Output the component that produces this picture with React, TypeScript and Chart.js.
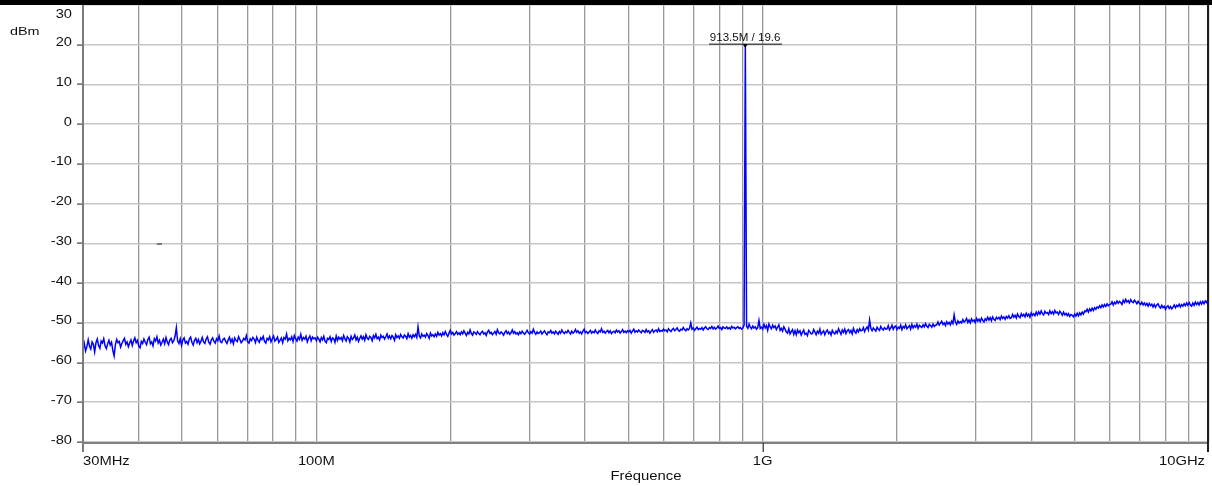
import React, { useEffect, useRef } from "react";
import { Chart, registerables } from "chart.js";

Chart.register(...registerables);

// ---- axes ----
const X_MIN = 30e6;
const X_MAX = 10e9;
const Y_MIN = -80;
const Y_MAX = 30;
const yTickValues = [30, 20, 10, 0, -10, -20, -30, -40, -50, -60, -70, -80];
const xGridFreqs = [
  30e6, 40e6, 50e6, 60e6, 70e6, 80e6, 90e6,
  100e6, 200e6, 300e6, 400e6, 500e6, 600e6, 700e6, 800e6, 900e6,
  1e9, 2e9, 3e9, 4e9, 5e9, 6e9, 7e9, 8e9, 9e9, 10e9,
];
const xLabelFreqs = [30e6, 100e6, 1e9, 10e9];
const xLabelTexts = ["30MHz", "100M", "1G", "10GHz"];
const xTickMarkFreqs = [1e9];
const yUnit = "dBm";
const xTitle = "Fréquence";

// ---- marker ----
const markerFreq = 913.5e6;
const markerLevel = 19.6;
const markerText = "913.5M / 19.6";

// small stray dash on the -30 line
const dashFreqs = [43.9e6, 45.1e6];
const dashLevel = -30;

// ---- trace (dBm), sweep 30 MHz -> 100 MHz ----
const segA = [
  -56.8, -55.2, -57.1, -56.0, -54.3, -55.9, -56.6, -54.8, -55.4, -57.3,
  -55.0, -54.1, -55.7, -56.4, -54.6, -55.1, -54.0, -55.8, -56.5, -55.3,
  -54.4, -55.6, -54.9, -56.9, -58.3, -55.5, -54.2, -55.0, -54.7, -56.1,
  -55.2, -54.5, -53.9, -55.4, -54.8, -56.0, -55.1, -54.3, -55.7, -54.6,
  -53.8, -55.0, -54.4, -55.9, -56.3, -54.7, -55.2, -54.1, -54.9, -55.5,
  -54.2, -53.6, -55.3, -54.8, -55.8, -54.0, -54.6, -53.5, -55.1, -54.4,
  -55.6, -54.9, -54.1, -55.3, -53.7, -54.8, -55.5, -54.3, -53.9, -55.0,
  -54.5, -53.4, -51.2, -54.6, -55.2, -54.0, -55.7, -54.3, -53.8, -55.1,
  -54.7, -55.4, -54.1, -53.6, -54.9, -55.6, -54.4, -53.9, -55.0, -54.2,
  -55.3, -54.6, -53.7, -54.8, -55.2, -54.1, -53.5, -54.9, -55.4, -54.3,
  -53.8, -54.7, -55.1, -54.0, -54.5, -53.3, -54.8, -55.0, -54.2, -53.9,
  -54.6, -55.2, -54.3, -53.6, -54.9, -54.1, -55.3, -53.8, -54.4, -54.7,
  -53.5, -54.2, -55.0, -54.6, -53.9, -54.3, -53.2, -54.8, -55.1, -54.0,
  -54.5, -53.7, -54.1, -55.0, -53.6, -54.4, -54.9, -53.8, -54.2, -53.4,
  -54.7, -55.1, -53.9, -54.3, -53.5, -54.8, -54.0, -53.3, -54.6, -54.2,
  -53.6, -54.9, -54.4, -53.8, -55.0, -53.7, -54.1, -52.8, -54.5, -53.9,
  -54.3, -53.5, -54.7, -53.2, -54.0, -54.6, -53.6, -54.2, -52.9, -54.4,
  -53.7, -54.1, -53.4, -54.8, -53.9, -53.3, -54.5, -53.6, -54.0, -53.8,
];
// sweep 100 MHz -> 1 GHz
const segB = [
  -54.5, -53.6, -54.1, -54.8, -53.7, -54.3, -53.4, -54.6, -55.0, -53.9,
  -54.2, -53.5, -54.7, -53.8, -54.0, -54.9, -53.3, -54.4, -53.6, -54.1,
  -53.7, -54.5, -53.2, -54.0, -54.6, -53.5, -53.9, -54.8, -53.4, -54.2,
  -53.8, -53.1, -54.3, -53.6, -54.7, -53.9, -53.3, -54.1, -53.5, -54.4,
  -53.0, -53.9, -54.2, -53.4, -53.7, -54.5, -53.2, -53.8, -52.9, -54.0,
  -53.6, -54.3, -53.1, -53.7, -53.4, -54.1, -53.5, -52.8, -53.9, -53.3,
  -54.0, -53.2, -53.6, -54.4, -53.0, -53.7, -53.3, -53.9, -52.9, -53.5,
  -53.8, -53.1, -53.4, -54.0, -52.7, -53.6, -53.2, -53.9, -53.0, -53.5,
  -52.9, -53.7, -51.0, -53.3, -53.8, -52.8, -53.4, -53.1, -53.6, -52.7,
  -53.2, -53.9, -52.6, -53.3, -53.0, -53.5, -52.8, -53.4, -52.4, -53.1,
  -52.7, -53.3, -52.5, -53.0, -52.2, -52.9, -53.4, -52.6, -51.9, -52.8,
  -52.4, -53.1, -52.7, -52.2, -52.9, -52.5, -53.0, -52.3, -52.8, -52.0,
  -52.6, -53.2, -52.4, -52.8, -51.8, -52.7, -53.1, -52.3, -52.5, -52.9,
  -52.2, -52.7, -53.0, -52.4, -52.1, -52.8, -52.5, -53.2, -52.3, -51.9,
  -52.7, -52.4, -53.0, -52.6, -52.2, -52.9, -51.7, -52.5, -52.8, -52.3,
  -52.6, -53.1, -52.4, -52.0, -52.7, -52.3, -52.9, -52.5, -51.8, -52.6,
  -52.2, -52.8, -52.5, -53.0, -52.3, -52.7, -52.1, -52.6, -52.9, -52.4,
  -51.9, -52.5, -52.8, -52.2, -52.6, -51.6, -52.4, -52.9, -52.3, -52.7,
  -52.5, -52.1, -52.8, -52.4, -52.0, -52.6, -53.0, -52.3, -52.5, -51.9,
  -52.6, -52.3, -52.8, -52.1, -52.5, -52.9, -52.2, -52.6, -51.8, -52.4,
  -52.7, -52.2, -52.5, -51.9, -52.4, -52.8, -52.1, -52.6, -52.3, -51.7,
  -52.4, -52.0, -52.6, -52.3, -52.8, -52.1, -51.6, -52.5, -52.2, -52.7,
  -52.3, -51.9, -52.6, -52.2, -52.5, -51.8, -52.4, -52.7, -52.0, -52.3,
  -51.5, -52.4, -52.1, -52.6, -52.2, -51.9, -52.5, -52.0, -52.7, -52.3,
  -52.1, -52.5, -51.8, -52.3, -52.0, -52.6, -52.2, -51.7, -52.4, -52.1,
  -52.5, -52.0, -52.3, -51.9, -52.6, -52.1, -51.6, -52.4, -52.0, -52.3,
  -51.8, -52.2, -52.5, -51.9, -52.1, -52.4, -51.7, -52.3, -52.0, -52.6,
  -52.1, -51.7, -52.4, -52.0, -51.8, -52.3, -51.5, -52.2, -51.9, -52.1,
  -51.6, -52.0, -51.8, -52.3, -51.5, -51.9, -52.2, -51.7, -51.4, -52.0,
  -51.7, -51.3, -51.9, -52.1, -51.6, -51.8, -51.2, -51.7, -52.0, -51.5,
  -51.8, -51.4, -50.0, -51.6, -51.3, -51.9, -51.5, -51.1, -51.7, -51.4,
  -51.6, -51.2, -51.8, -51.3, -51.0, -51.5, -51.7, -51.2, -51.4, -50.9,
  -51.5, -51.1, -51.6, -51.3, -50.8, -51.4, -51.2, -51.7, -51.0, -51.3,
  -51.4, -51.0, -51.5, -51.2, -51.6, -50.9, -51.3, -51.1, -51.5, -51.2,
  -51.0, -51.4, -51.2, -51.6, -51.3, -50.6, 19.6, -50.9, -51.4, -50.3,
  -51.1, -51.5, -50.8, -51.3, -51.0, -51.6, -51.2, -49.4, -51.4, -51.1,
];
// sweep 1 GHz -> 10 GHz
const segC = [
  -51.6, -50.4, -51.3, -50.7, -51.9, -50.3, -51.0, -51.5, -50.6, -51.2,
  -50.8, -51.7, -51.1, -50.5, -51.9, -51.4, -52.1, -51.0, -51.6, -52.3,
  -52.6, -51.5, -52.8, -52.2, -51.7, -52.9, -52.0, -53.0, -51.8, -52.5,
  -52.0, -53.1, -52.4, -51.8, -52.9, -52.6, -53.2, -51.9, -52.3, -52.8,
  -52.7, -51.7, -52.3, -53.0, -52.1, -52.6, -51.6, -52.9, -52.4, -52.0,
  -53.0, -52.2, -51.8, -52.7, -52.3, -53.1, -51.9, -52.5, -52.8, -52.1,
  -52.6, -51.5, -52.2, -52.9, -51.8, -52.4, -51.6, -52.7, -52.0, -51.7,
  -52.5, -51.9, -52.8, -51.4, -52.2, -52.6, -51.7, -52.3, -51.5, -52.0,
  -51.9, -51.2, -52.2, -51.5, -51.0, -51.8, -49.3, -51.4, -52.0, -51.3,
  -51.7, -52.1, -51.1, -51.6, -51.9, -50.9, -51.5, -51.8, -51.2, -51.6,
  -51.5, -50.7, -51.8, -51.3, -50.6, -51.6, -51.0, -50.8, -51.7, -51.1,
  -51.4, -50.6, -51.7, -50.9, -51.3, -50.5, -51.5, -51.1, -50.7, -51.6,
  -50.4, -51.3, -50.7, -51.1, -50.3, -51.4, -50.6, -50.9, -51.2, -50.5,
  -51.0, -50.2, -50.8, -51.2, -50.4, -50.7, -51.1, -50.3, -50.9, -50.6,
  -50.5, -49.8, -50.6, -50.1, -49.6, -50.4, -50.0, -50.7, -49.7, -50.3,
  -49.9, -50.5, -49.6, -50.2, -48.0, -49.8, -50.4, -49.5, -50.1, -49.7,
  -50.0, -49.2, -49.8, -49.5, -48.9, -49.9, -49.3, -50.0, -49.0, -49.6,
  -49.3, -49.9, -48.9, -49.6, -49.1, -49.7, -48.8, -49.4, -49.8, -49.0,
  -49.4, -48.6, -49.3, -48.7, -49.5, -48.5, -49.1, -49.4, -48.6, -49.0,
  -48.6, -49.2, -48.3, -48.9, -48.5, -49.1, -48.4, -48.8, -48.2, -48.9,
  -48.7, -47.9, -48.6, -48.1, -48.8, -47.8, -48.4, -48.7, -47.7, -48.3,
  -47.9, -48.5, -47.6, -48.3, -47.8, -48.6, -47.5, -48.1, -47.7, -48.2,
  -47.3, -48.0, -47.2, -47.8, -47.0, -47.7, -48.0, -47.1, -47.6, -47.4,
  -47.9, -47.0, -47.7, -47.2, -47.8, -46.9, -47.5, -47.3, -47.9, -47.1,
  -47.5, -48.1, -47.3, -48.0, -47.6, -48.2, -47.7, -48.4, -47.9, -48.1,
  -48.5, -47.8, -48.3, -47.6, -48.2, -47.5, -48.0, -47.3, -47.8, -47.0,
  -47.2, -46.6, -47.3, -46.5, -47.0, -46.3, -46.9, -46.2, -46.6, -46.0,
  -46.3, -45.7, -46.2, -45.5, -46.0, -45.4, -45.9, -45.2, -45.7, -45.4,
  -45.3, -44.7, -45.5, -44.8, -45.2, -44.5, -45.1, -44.6, -44.9, -45.4,
  -44.3, -44.9, -44.1, -44.8, -44.4, -45.0, -44.2, -44.7, -44.9, -44.3,
  -44.7, -45.2, -44.6, -45.1, -45.4, -44.8, -45.5, -45.0, -45.6, -45.1,
  -45.8, -45.1, -45.7, -45.3, -46.0, -45.4, -46.1, -45.5, -45.2, -45.9,
  -46.3, -45.6, -46.2, -45.8, -46.6, -46.0, -45.7, -46.4, -45.9, -46.5,
  -46.1, -45.5, -46.2, -45.6, -45.9, -45.3, -46.0, -45.4, -45.8, -45.2,
  -45.7, -45.0, -45.6, -44.9, -45.5, -45.8, -45.0, -45.6, -44.8, -45.4,
  -44.9, -45.5, -44.7, -45.3, -44.6, -45.2, -44.5, -44.9, -44.2, -43.6,
];

// sweep grid: evenly spaced in log frequency
function sweep(start: number, stop: number, vals: number[], inclusive: boolean) {
  const n = inclusive ? vals.length - 1 : vals.length;
  return vals.map((y, i) => ({ x: start * Math.pow(stop / start, i / n), y }));
}

const tracePoints = [
  ...sweep(30e6, 100e6, segA, false),
  ...sweep(100e6, 1e9, segB, false),
  ...sweep(1e9, 10e9, segC, true),
];

const FONT = '"Liberation Sans", Arial, Helvetica, sans-serif';

function drawText(
  ctx: CanvasRenderingContext2D,
  s: string,
  x: number,
  y: number,
  size: number,
  align: "left" | "center" | "right",
  sx: number,
  color = "#111"
) {
  ctx.save();
  ctx.font = `${size}px ${FONT}`;
  const w = ctx.measureText(s).width * sx;
  const left = align === "left" ? x : align === "right" ? x - w : x - w / 2;
  ctx.translate(left, y);
  ctx.scale(sx, 1);
  ctx.textAlign = "left";
  ctx.textBaseline = "alphabetic";
  ctx.fillStyle = color;
  ctx.fillText(s, 0, 0);
  ctx.restore();
}

const overlayPlugin = {
  id: "overlay",
  afterDraw(chart: any) {
    const { ctx, chartArea: a, scales } = chart;
    const xs = scales.x;
    const ys = scales.y;
    ctx.save();

    // top black band
    ctx.fillStyle = "#000";
    ctx.fillRect(0, 0, chart.width, a.top);

    // left axis line (extends as tick below)
    ctx.fillStyle = "#7a7a7a";
    ctx.fillRect(a.left - 1, a.top, 2, a.bottom - a.top + 10);
    // bottom axis line
    ctx.fillStyle = "#808080";
    ctx.fillRect(a.left - 1, a.bottom, a.right - a.left + 1, 2);
    // right border
    ctx.fillStyle = "#1e1e1e";
    ctx.fillRect(a.right - 2, a.top, 2, a.bottom - a.top + 10);

    // x tick marks
    ctx.fillStyle = "#555";
    xTickMarkFreqs.forEach((f) => {
      const px = Math.round(xs.getPixelForValue(f));
      ctx.fillRect(px - 0.5, a.bottom, 1.5, 10);
    });

    // y tick marks and labels
    yTickValues.forEach((v, i) => {
      const py = ys.getPixelForValue(v);
      if (i > 0) {
        ctx.fillStyle = "#444";
        ctx.fillRect(a.left - 6, Math.round(py) - 0.5, 5, 1.2);
      }
      const base = i === 0 ? a.top + 13 : py + 1.5;
      drawText(ctx, String(v), a.left - 11, base, 12, "right", 1.22);
    });

    // x labels
    xLabelFreqs.forEach((f, i) => {
      const px = xs.getPixelForValue(f);
      const align = i === 0 ? "left" : i === xLabelFreqs.length - 1 ? "right" : "center";
      const x = i === xLabelFreqs.length - 1 ? px - 4 : px;
      drawText(ctx, xLabelTexts[i], x, a.bottom + 23, 12, align as any, 1.23);
    });

    // unit and axis title
    drawText(ctx, yUnit, 10, 35, 11.5, "left", 1.25);
    drawText(ctx, xTitle, (a.left + a.right) / 2, 480, 12, "center", 1.24);

    // stray dash
    ctx.strokeStyle = "#7a7a7a";
    ctx.lineWidth = 2;
    ctx.beginPath();
    const dy = Math.round(ys.getPixelForValue(dashLevel)) + 1;
    ctx.moveTo(xs.getPixelForValue(dashFreqs[0]), dy);
    ctx.lineTo(xs.getPixelForValue(dashFreqs[1]), dy);
    ctx.stroke();

    // marker
    const mx = xs.getPixelForValue(markerFreq);
    const my = ys.getPixelForValue(markerLevel);
    ctx.font = `11px ${FONT}`;
    const tw = ctx.measureText(markerText).width * 1.05;
    drawText(ctx, markerText, mx, my - 5, 11, "center", 1.05, "#111");
    ctx.fillStyle = "#505050";
    ctx.fillRect(Math.round(mx - tw / 2 - 1), Math.round(my) - 2.5, Math.round(tw + 2), 1.5);
    ctx.fillStyle = "#000";
    ctx.beginPath();
    ctx.moveTo(mx - 2.5, my - 2);
    ctx.lineTo(mx + 2.5, my - 2);
    ctx.lineTo(mx, my + 1.5);
    ctx.closePath();
    ctx.fill();

    ctx.restore();
  },
};

export default function App() {
  const ref = useRef<HTMLCanvasElement | null>(null);

  useEffect(() => {
    if (!ref.current) return;
    const chart = new Chart(ref.current, {
      type: "line",
      data: {
        datasets: [
          {
            data: tracePoints,
            borderColor: "#0000ff",
            borderWidth: 1.5,
            pointRadius: 0,
            tension: 0,
            fill: false,
          },
        ],
      },
      options: {
        animation: false,
        responsive: false,
        maintainAspectRatio: false,
        layout: { padding: { top: 5, right: 3, left: 0, bottom: 0 } },
        plugins: {
          legend: { display: false },
          tooltip: { enabled: false },
          title: { display: false },
        },
        scales: {
          x: {
            type: "logarithmic",
            min: X_MIN,
            max: X_MAX,
            afterBuildTicks: (s: any) => {
              s.ticks = xGridFreqs.map((v) => ({ value: v }));
            },
            afterFit: (s: any) => {
              s.height = 44;
            },
            ticks: { display: false },
            grid: { color: "#989898", lineWidth: 1.3, drawTicks: false },
            border: { display: false },
          },
          y: {
            type: "linear",
            min: Y_MIN,
            max: Y_MAX,
            afterBuildTicks: (s: any) => {
              s.ticks = yTickValues.map((v) => ({ value: v }));
            },
            afterFit: (s: any) => {
              s.width = 83;
            },
            ticks: { display: false },
            grid: { color: "#c6c6c6", lineWidth: 1.6, drawTicks: false },
            border: { display: false },
          },
        },
      } as any,
      plugins: [overlayPlugin],
    });
    return () => chart.destroy();
  }, []);

  return (
    <div style={{ position: "fixed", left: 0, top: 0, width: 1212, height: 486, background: "#fff" }}>
      <canvas ref={ref} width={1212} height={486} />
    </div>
  );
}
